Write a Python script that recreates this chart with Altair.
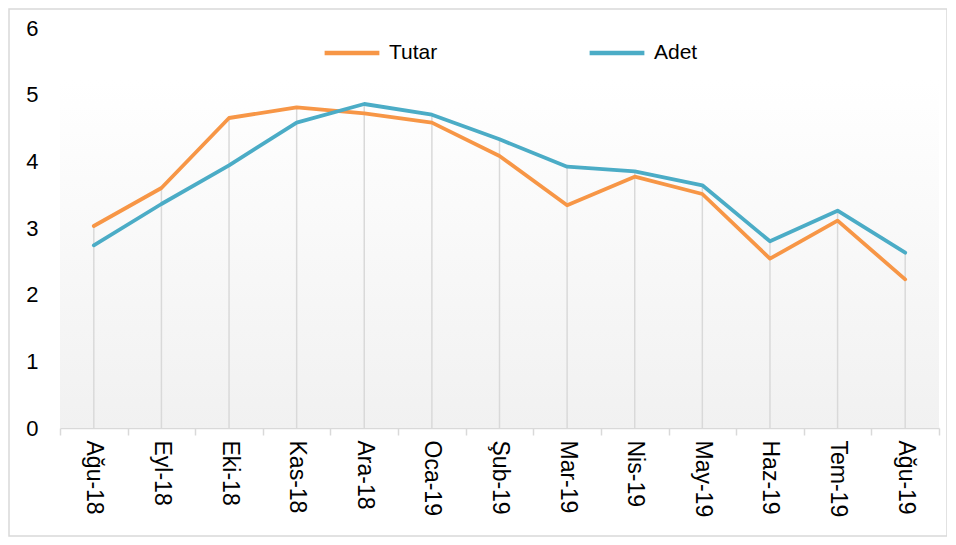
import altair as alt
import pandas as pd

months = ["Ağu-18", "Eyl-18", "Eki-18", "Kas-18", "Ara-18", "Oca-19", "Şub-19",
          "Mar-19", "Nis-19", "May-19", "Haz-19", "Tem-19", "Ağu-19"]
series = ["Tutar", "Adet"]
tutar = [3.03, 3.60, 4.65, 4.81, 4.72, 4.58, 4.08, 3.34, 3.77, 3.51, 2.54, 3.11, 2.23]
adet = [2.74, 3.36, 3.94, 4.58, 4.86, 4.70, 4.33, 3.92, 3.85, 3.64, 2.80, 3.26, 2.63]
colors = ["#F79646", "#4BACC6"]
y_ticks = [0, 1, 2, 3, 4, 5, 6]

rows = []
for i, m in enumerate(months):
    rows.append({"month": m, "series": "Tutar", "value": tutar[i], "idx": i})
for i, m in enumerate(months):
    rows.append({"month": m, "series": "Adet", "value": adet[i], "idx": i})
df = pd.DataFrame(rows)

FONT = "Liberation Sans"

x_enc = alt.X(
    "month:N",
    sort=months,
    bandPosition=0.5,
    scale=alt.Scale(type="band", paddingInner=0, paddingOuter=0),
    axis=alt.Axis(
        title=None,
        labelAngle=90,
        labelAlign="left",
        labelBaseline="middle",
        labelFontSize=23,
        labelFont=FONT,
        labelFontWeight="normal",
        labelColor="#000000",
        labelPadding=5,
        tickBand="extent",
        tickSize=7,
        tickColor="#d9d9d9",
        tickWidth=1.5,
        domainColor="#d9d9d9",
        domainWidth=1.5,
        grid=False,
    ),
)

y_scale = alt.Scale(domain=[0, 6], nice=False, zero=True)
y_axis = alt.Axis(
    title=None,
    values=y_ticks,
    domain=False,
    ticks=False,
    grid=False,
    labelFontSize=22,
    labelFont=FONT,
    labelFontWeight="normal",
    labelColor="#000000",
    labelPadding=22,
)

gradient = alt.LinearGradient(
    gradient="linear",
    x1=0, y1=0, x2=0, y2=1,
    stops=[
        alt.GradientStop(offset=0, color="#ffffff"),
        alt.GradientStop(offset=1, color="#f1f1f1"),
    ],
)

bg = alt.Chart(pd.DataFrame({"a": [0]})).mark_rect(fill=gradient).encode(
    x=alt.value(0), x2=alt.value({"expr": "width"}),
    y=alt.value(52), y2=alt.value({"expr": "height"}),
)

base = alt.Chart(df)

drops = base.mark_rule(color="#d9d9d9", strokeWidth=1.5).encode(
    x=x_enc,
    y=alt.Y("max(value):Q", scale=y_scale, axis=y_axis),
    y2=alt.datum(0),
)

lines = base.mark_line(strokeWidth=3.8, strokeJoin="round", strokeCap="round").encode(
    x=x_enc,
    y=alt.Y("value:Q", scale=y_scale, axis=y_axis),
    color=alt.Color(
        "series:N",
        sort=series,
        scale=alt.Scale(domain=series, range=colors),
        legend=alt.Legend(
            title=None,
            orient="none",
            legendX=262,
            legendY=-5,
            direction="horizontal",
            symbolType="stroke",
            symbolSize=3000,
            symbolStrokeWidth=4.5,
            labelFont=FONT,
            labelFontSize=21,
            labelFontWeight="normal",
            labelColor="#000000",
            labelOffset=7,
            columnPadding=142,
            labelLimit=200,
        ),
    ),
    detail="series:N",
    order="idx:Q",
)

frame = alt.Chart(pd.DataFrame({"a": [0]})).mark_rect(
    fillOpacity=0, stroke="#d9d9d9", strokeWidth=1.5
).encode(
    x=alt.value(-51), x2=alt.value(887), y=alt.value(-19), y2=alt.value(508)
)

chart = (
    alt.layer(bg, drops, lines, frame)
    .properties(
        width=879,
        height=400,
        autosize=alt.AutoSizeParams(type="none"),
        padding={"left": 52, "top": 20, "right": 8, "bottom": 109},
        background="#ffffff",
    )
    .configure_view(stroke=None)
)

chart.save("out.html", embed_options={"renderer": "svg", "actions": False})
